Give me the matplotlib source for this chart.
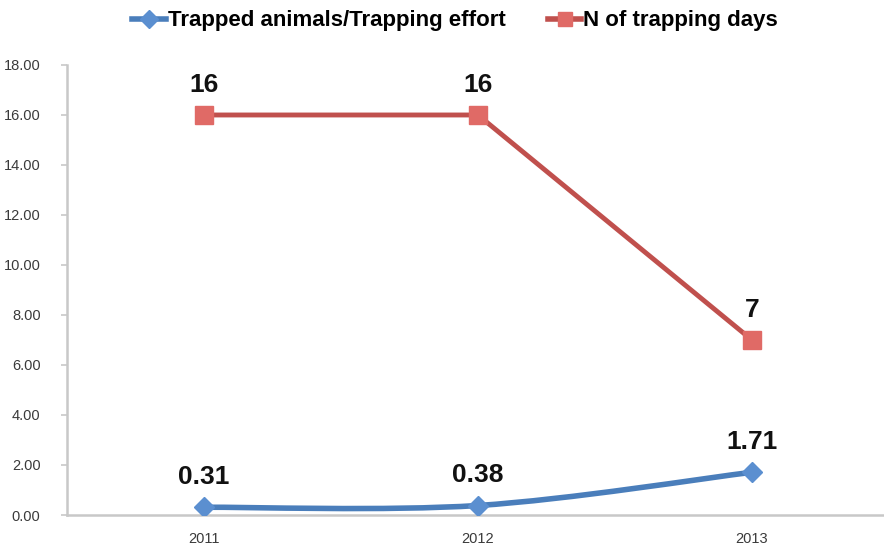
import numpy as np
import matplotlib.pyplot as plt
from matplotlib.path import Path
from matplotlib.patches import PathPatch
from matplotlib.lines import Line2D

years = ["2011", "2012", "2013"]
trap_ratio = [0.31, 0.38, 1.71]
trap_days = [16, 16, 7]
y_ticks = [0, 2, 4, 6, 8, 10, 12, 14, 16, 18]

blue = '#4a7ebb'
blue_mk = '#5b8fd0'
red = '#c0504d'
red_mk = '#e06a66'
grey = '#c8c8c8'

plt.rcParams['font.family'] = ['Liberation Sans', 'DejaVu Sans']

fig = plt.figure(figsize=(8.84, 5.47), dpi=100)
ax = fig.add_axes([0.0758, 0.0585, 0.9242, 0.8227])

x = np.arange(len(years))


def smooth_path(xs, ys):
    # Excel style smoothed line: cubic bezier through the points
    pts = np.column_stack([xs, ys]).astype(float)
    verts = [pts[0]]
    codes = [Path.MOVETO]
    n = len(pts)
    for i in range(n - 1):
        p_prev = pts[i - 1] if i > 0 else pts[i]
        p_next = pts[i + 2] if i + 2 < n else pts[i + 1]
        c1 = pts[i] + (pts[i + 1] - p_prev) / 6
        c2 = pts[i + 1] - (p_next - pts[i]) / 6
        verts += [c1, c2, pts[i + 1]]
        codes += [Path.CURVE4] * 3
    return Path(verts, codes)


ax.add_patch(PathPatch(smooth_path(x, trap_ratio), fill=False,
                       edgecolor=blue, linewidth=4, zorder=3,
                       capstyle='round'))
ax.plot(x, trap_ratio, linestyle='none', marker='D', markersize=10,
        markerfacecolor=blue_mk, markeredgecolor=blue_mk, zorder=4)

ax.plot(x, trap_days, color=red, linewidth=3.5, marker='s', markersize=13,
        markerfacecolor=red_mk, markeredgecolor=red_mk, zorder=4)

for xi, v in zip(x, trap_ratio):
    ax.annotate(f"{v:.2f}", (xi, v), xytext=(0, 13), textcoords='offset points',
                ha='center', va='bottom', fontsize=19, fontweight='bold',
                color='#111111')
for xi, v in zip(x, trap_days):
    ax.annotate(f"{v}", (xi, v), xytext=(0, 13), textcoords='offset points',
                ha='center', va='bottom', fontsize=19, fontweight='bold',
                color='#111111')

ax.set_xlim(-0.5, 2.482)
ax.set_ylim(0, 18)
ax.set_yticks(y_ticks)
ax.set_yticklabels([f"{t:.2f}" for t in y_ticks], fontsize=10.5, color='#3a3a3a')
ax.set_xticks(x)
ax.set_xticklabels(years, fontsize=10.5, color='#3a3a3a')

for s in ['top', 'right']:
    ax.spines[s].set_visible(False)
for s in ['left', 'bottom']:
    ax.spines[s].set_color(grey)
    ax.spines[s].set_linewidth(1.8)
ax.tick_params(axis='y', length=4, color=grey, width=1.2, pad=15)
ax.tick_params(axis='x', length=0, pad=12)

handles = [
    Line2D([0], [0], color=blue, linewidth=4, marker='D', markersize=9,
           markerfacecolor=blue_mk, markeredgecolor=blue_mk,
           label='Trapped animals/Trapping effort'),
    Line2D([0], [0], color=red, linewidth=4, marker='s', markersize=10,
           markerfacecolor=red_mk, markeredgecolor=red_mk,
           label='N of trapping days'),
]
fig.legend(handles=handles, loc='center', bbox_to_anchor=(0.515, 0.962), ncol=2,
           frameon=False, handlelength=1.5, handletextpad=0.1,
           columnspacing=1.9, prop={'weight': 'bold', 'size': 16})

fig.savefig('out.png', dpi=100)
